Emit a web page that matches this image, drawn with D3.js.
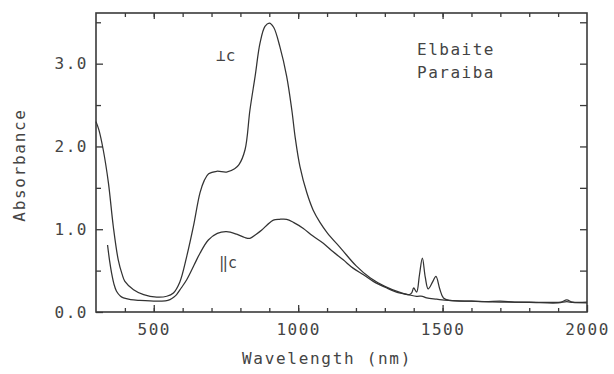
<!DOCTYPE html>
<html>
<head>
<meta charset="utf-8">
<script src="https://cdn.jsdelivr.net/npm/d3@7"></script>
<style>
  body { margin: 0; background: #fff; }
  text { font-family: "DejaVu Sans Mono", monospace; fill: #444; }
</style>
</head>
<body>
<svg id="chart" width="614" height="374"></svg>
<script>
// E ⊥ c
const perpNm = [300, 310, 325, 343, 360, 377, 390, 400, 430, 465, 510, 545, 568, 590, 614, 637, 660, 675, 690, 718, 752, 780, 795, 816, 833, 851, 868, 885, 900, 915, 937, 960, 978, 990, 1006, 1030, 1052, 1076, 1100, 1150, 1200, 1250, 1300, 1350, 1385, 1393, 1400, 1410, 1420, 1430, 1440, 1450, 1465, 1477, 1490, 1503, 1526, 1600, 1650, 1700, 1750, 1800, 1880, 1910, 1930, 1950, 2000];
const perpAbs = [2.30, 2.20, 1.96, 1.56, 1.03, 0.63, 0.46, 0.37, 0.27, 0.21, 0.18, 0.19, 0.23, 0.36, 0.67, 1.03, 1.44, 1.59, 1.67, 1.70, 1.69, 1.73, 1.78, 1.96, 2.44, 2.85, 3.25, 3.45, 3.49, 3.44, 3.20, 2.85, 2.44, 2.10, 1.76, 1.44, 1.23, 1.08, 0.96, 0.76, 0.56, 0.41, 0.31, 0.24, 0.21, 0.23, 0.29, 0.24, 0.45, 0.65, 0.42, 0.28, 0.36, 0.43, 0.28, 0.17, 0.14, 0.13, 0.125, 0.13, 0.12, 0.12, 0.115, 0.12, 0.145, 0.12, 0.12];

// E ∥ c
const paraNm = [340, 347, 354, 362, 371, 385, 395, 420, 452, 510, 540, 556, 570, 579, 595, 614, 640, 660, 689, 720, 752, 787, 815, 833, 855, 874, 895, 914, 935, 960, 985, 1018, 1050, 1087, 1120, 1156, 1190, 1226, 1260, 1307, 1350, 1380, 1410, 1430, 1445, 1480, 1520, 1600, 1700, 1800, 1900, 1930, 1950, 2000];
const paraAbs = [0.81, 0.62, 0.47, 0.34, 0.25, 0.19, 0.17, 0.15, 0.14, 0.13, 0.135, 0.15, 0.18, 0.21, 0.29, 0.39, 0.57, 0.71, 0.87, 0.95, 0.97, 0.94, 0.90, 0.89, 0.94, 0.99, 1.06, 1.11, 1.12, 1.12, 1.08, 1.01, 0.92, 0.83, 0.73, 0.63, 0.53, 0.45, 0.37, 0.29, 0.23, 0.21, 0.19, 0.19, 0.17, 0.155, 0.14, 0.13, 0.12, 0.115, 0.11, 0.125, 0.115, 0.11];

const xMajor = [500, 1000, 1500, 2000];
const xMinor = d3.range(400, 2000, 100);
const yMajor = [0, 1, 2, 3];
const yMinor = [0.5, 1.5, 2.5, 3.5];

const svg = d3.select("#chart");
const plot = { left: 96, right: 587, top: 13, bottom: 312 };

const x = d3.scaleLinear().domain([300, 2000]).range([plot.left, plot.right]);
const y = d3.scaleLinear().domain([0, 3.6]).range([plot.bottom, 14]);

const axisColor = "#3a3a3a";

function styleAxis(g) {
  g.select(".domain").remove();
  g.selectAll("line").attr("stroke", axisColor).attr("stroke-width", 1.3);
  g.selectAll("text")
    .attr("font-family", "DejaVu Sans Mono")
    .attr("font-size", 16)
    .attr("letter-spacing", 1.5)
    .attr("fill", "#444");
}

// bottom
svg.append("g").attr("transform", `translate(0,${plot.bottom})`)
  .call(d3.axisBottom(x).tickValues(xMinor).tickSize(-4).tickFormat(""))
  .call(styleAxis);
svg.append("g").attr("transform", `translate(0,${plot.bottom})`)
  .call(d3.axisBottom(x).tickValues(xMajor).tickSize(-7).tickPadding(12).tickFormat(d3.format("d")))
  .call(styleAxis);

// top
svg.append("g").attr("transform", `translate(0,${plot.top})`)
  .call(d3.axisTop(x).tickValues(xMinor).tickSize(-4).tickFormat(""))
  .call(styleAxis);
svg.append("g").attr("transform", `translate(0,${plot.top})`)
  .call(d3.axisTop(x).tickValues([500, 1000, 1500]).tickSize(-6).tickFormat(""))
  .call(styleAxis);

// left
svg.append("g").attr("transform", `translate(${plot.left},0)`)
  .call(d3.axisLeft(y).tickValues(yMinor).tickSize(-5).tickFormat(""))
  .call(styleAxis);
svg.append("g").attr("transform", `translate(${plot.left},0)`)
  .call(d3.axisLeft(y).tickValues(yMajor).tickSize(-7).tickPadding(8).tickFormat(d3.format(".1f")))
  .call(styleAxis);

// right
svg.append("g").attr("transform", `translate(${plot.right},0)`)
  .call(d3.axisRight(y).tickValues(yMinor.concat(yMajor.slice(1))).tickSize(-7).tickFormat(""))
  .call(styleAxis);

// frame
svg.append("rect")
  .attr("x", plot.left).attr("y", plot.top)
  .attr("width", plot.right - plot.left).attr("height", plot.bottom - plot.top)
  .attr("fill", "none")
  .attr("stroke", axisColor)
  .attr("stroke-width", 1.6);

const line = d3.line()
  .x(d => x(d[0]))
  .y(d => y(d[1]))
  .curve(d3.curveCatmullRom.alpha(0.5));

svg.append("path")
  .datum(d3.zip(perpNm, perpAbs))
  .attr("d", line)
  .attr("fill", "none")
  .attr("stroke", "#333")
  .attr("stroke-width", 1.25);

svg.append("path")
  .datum(d3.zip(paraNm, paraAbs))
  .attr("d", line)
  .attr("fill", "none")
  .attr("stroke", "#333")
  .attr("stroke-width", 1.25);

// labels
svg.append("text").attr("x", 216).attr("y", 61).attr("font-size", 16).text("⊥c");
svg.append("text").attr("x", 219).attr("y", 268).attr("font-size", 15).text("‖c");

svg.append("text").attr("x", 417).attr("y", 55).attr("font-size", 16).attr("letter-spacing", 1.5).text("Elbaite");
svg.append("text").attr("x", 417).attr("y", 78).attr("font-size", 16).attr("letter-spacing", 1.5).text("Paraiba");

svg.append("text")
  .attr("x", 327).attr("y", 364)
  .attr("text-anchor", "middle")
  .attr("font-size", 16).attr("letter-spacing", 1.7)
  .text("Wavelength (nm)");

svg.append("text")
  .attr("transform", "translate(25,165) rotate(-90)")
  .attr("text-anchor", "middle")
  .attr("font-size", 16).attr("letter-spacing", 1.7)
  .text("Absorbance");
</script>
</body>
</html>
